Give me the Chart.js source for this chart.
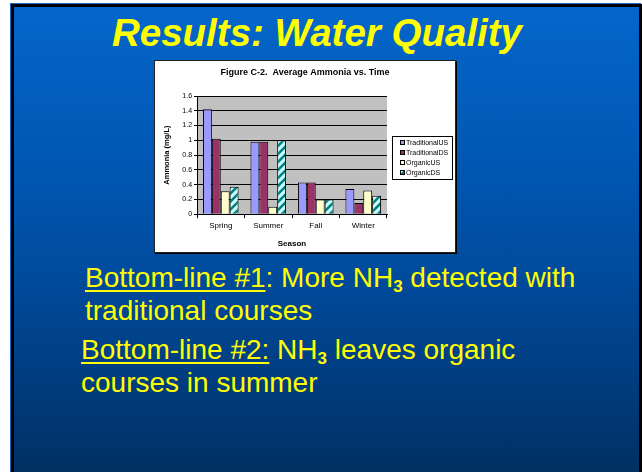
<!DOCTYPE html>
<html lang="en">
<head>
  <meta charset="UTF-8">
  <title>Results: Water Quality</title>
  <script src="https://cdn.jsdelivr.net/npm/chart.js"></script>
  <style>
    html, body { margin: 0; padding: 0; width: 642px; height: 472px; overflow: hidden; background: #fff; }
    #slide {
      position: absolute; left: 11px; top: 4px; width: 625px; height: 480px;
      border: 3px solid #000; border-bottom: none;
      box-shadow: -1px -1px 0 #1a66c8;
      background: linear-gradient(to bottom, #0566ca 0px, #0058b4 150px, #004c9e 260px, #003a7a 390px, #002f60 472px);
    }
    .txt { position: absolute; color: #ffff00; font-family: Arial, "Liberation Sans", sans-serif; white-space: nowrap; }
    #title { left: -4px; width: 642px; top: 11px; text-align: center; font-size: 38.5px; font-weight: bold; font-style: italic; }
    .body { font-size: 28px; line-height: 33px; }
    .body sub { font-size: 17px; font-weight: bold; vertical-align: -5px; line-height: 0; }
    .body u { text-decoration-thickness: 2px; text-underline-offset: 3px; }
    #p1 { left: 85px; top: 261px; }
    #p2 { left: 81px; top: 333px; }
    #chart_box {
      position: absolute; left: 154px; top: 60px; width: 300px; height: 191px;
      background: #fff; border: 1px solid #222; box-shadow: 1px 1px 0 #000;
    }
  </style>
</head>
<body>
  <div id="slide"></div>
  <div id="title" class="txt">Results: Water Quality</div>
  <div id="chart_box"><canvas id="myChart" width="300" height="191"></canvas></div>
  <div id="p1" class="txt body"><u>Bottom-line #1</u>: More NH<sub>3</sub> detected with<br>traditional courses</div>
  <div id="p2" class="txt body"><u>Bottom-line #2:</u> NH<sub>3</sub> leaves organic<br>courses in summer</div>
  <script>
    // data
    const chartTitle = 'Figure C-2.  Average Ammonia vs. Time';
    const seasons = ['Spring', 'Summer', 'Fall', 'Winter'];
    const traditionalUS = [1.42, 0.98, 0.43, 0.34];
    const traditionalDS = [1.02, 0.98, 0.43, 0.15];
    const organicUS = [0.31, 0.10, 0.20, 0.32];
    const organicDS = [0.37, 1.00, 0.20, 0.25];
    const yTicks = ['0', '0.2', '0.4', '0.6', '0.8', '1', '1.2', '1.4', '1.6'];

    const FONT = 'Arial, "Liberation Sans", sans-serif';
    const ctx = document.getElementById('myChart').getContext('2d');

    // cyan with teal diagonal stripes
    function stripes() {
      const c = document.createElement('canvas');
      c.width = 8; c.height = 8;
      const g = c.getContext('2d');
      g.fillStyle = '#ccffff';
      g.fillRect(0, 0, 8, 8);
      g.strokeStyle = '#008080';
      g.lineWidth = 2.6;
      g.beginPath();
      g.moveTo(-2, 10); g.lineTo(10, -2);
      g.moveTo(-6, 6); g.lineTo(6, -6);
      g.moveTo(2, 14); g.lineTo(14, 2);
      g.stroke();
      return ctx.createPattern(c, 'repeat');
    }

    // grey plot area
    const plotBg = {
      id: 'plotBg',
      beforeDraw(chart) {
        const a = chart.chartArea, c = chart.ctx;
        c.save();
        c.fillStyle = '#c0c0c0';
        c.fillRect(a.left, a.top, a.right - a.left, a.bottom - a.top);
        c.restore();
      }
    };

    // title centred on the whole figure + boxed legend built from the datasets
    const figureParts = {
      id: 'figureParts',
      afterDraw(chart) {
        const a = chart.chartArea, c = chart.ctx;
        c.save();
        c.fillStyle = '#000';
        c.font = 'bold 9px ' + FONT;
        c.textAlign = 'center';
        c.textBaseline = 'middle';
        c.fillText(chartTitle, chart.width / 2, 12);

        const x0 = Math.round(a.right) + 5, x1 = chart.width - 3;
        const y0 = Math.round((a.top + a.bottom) / 2) - 19;
        c.strokeStyle = '#000';
        c.lineWidth = 1;
        c.strokeRect(x0 + 0.5, y0 + 0.5, x1 - x0, 43);
        c.font = '7px ' + FONT;
        c.textAlign = 'left';
        chart.data.datasets.forEach((ds, i) => {
          const y = y0 + 7 + i * 10;
          c.fillStyle = ds.backgroundColor;
          c.fillRect(x0 + 8, y - 2, 4, 4);
          c.strokeRect(x0 + 8.5, y - 2.5, 4, 4);
          c.fillStyle = '#000';
          c.fillText(ds.label, x0 + 14, y + 0.5);
        });
        c.restore();
      }
    };

    const mk = (label, data, color) => ({
      label, data, backgroundColor: color, borderColor: '#000', borderWidth: 1,
      barPercentage: 1, categoryPercentage: 0.75
    });

    new Chart(ctx, {
      type: 'bar',
      data: {
        labels: seasons,
        datasets: [
          mk('TraditionalUS', traditionalUS, '#9999ff'),
          mk('TraditionalDS', traditionalDS, '#993366'),
          mk('OrganicUS', organicUS, '#ffffcc'),
          mk('OrganicDS', organicDS, stripes())
        ]
      },
      options: {
        responsive: false,
        animation: false,
        layout: { padding: { left: 5, right: 68, top: 35, bottom: 3 } },
        plugins: {
          title: { display: false },
          legend: { display: false },
          tooltip: { enabled: false }
        },
        scales: {
          x: {
            grid: { offset: true, drawOnChartArea: false, color: '#000', tickLength: 4 },
            border: { color: '#000' },
            ticks: { color: '#000', font: { family: FONT, size: 8 }, padding: 3 },
            title: { display: true, text: 'Season', color: '#000', font: { family: FONT, size: 8, weight: 'bold' }, padding: { top: 5.6, bottom: 0 } }
          },
          y: {
            min: 0, max: 1.6,
            ticks: {
              stepSize: 0.2, color: '#000', font: { family: FONT, size: 7 }, padding: 2,
              callback: (v, i) => yTicks[i]
            },
            grid: { color: '#000', tickLength: 3 },
            border: { color: '#000' },
            title: { display: true, text: 'Ammonia (mg/L)', color: '#000', font: { family: FONT, size: 7.5, weight: 'bold' }, padding: { top: 2.5, bottom: 8.8 } }
          }
        }
      },
      plugins: [plotBg, figureParts]
    });
  </script>
</body>
</html>
